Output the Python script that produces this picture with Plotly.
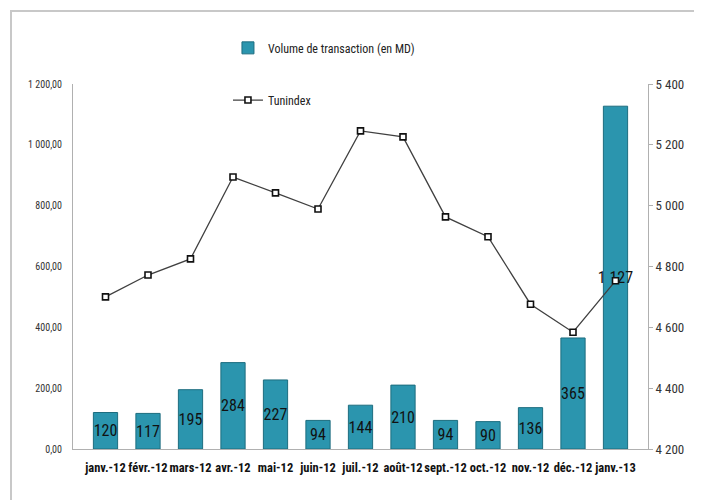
import plotly.graph_objects as go

months = ["janv.-12", "févr.-12", "mars-12", "avr.-12", "mai-12", "juin-12", "juil.-12",
          "août-12", "sept.-12", "oct.-12", "nov.-12", "déc.-12", "janv.-13"]
volume = [120, 117, 195, 284, 227, 94, 144, 210, 94, 90, 136, 365, 1127]
tunindex = [4700, 4772, 4825, 5094, 5042, 4989, 5246, 5226, 4963, 4898, 4676, 4584, 4753]

FONT = "Roboto Condensed, Liberation Sans Narrow, Roboto, sans-serif"

fig = go.Figure()
fig.add_trace(go.Bar(
    x=months, y=volume, name="Volume de transaction (en MD)",
    marker=dict(color="#2b95ae", line=dict(color="#1d6d7f", width=1)),
    texttemplate="%{y:,.0f}", textposition="inside", insidetextanchor="middle",
    constraintext="none",
    textfont=dict(family=FONT, size=16, color="#111111"), textangle=0,
    legend="legend",
))
fig.add_trace(go.Scatter(
    x=months, y=tunindex, name="Tunindex", yaxis="y2", mode="lines+markers",
    line=dict(color="#404040", width=1.3),
    marker=dict(symbol="square", size=6, color="white", line=dict(color="#111111", width=1.6)),
    legend="legend2",
))

fig.update_layout(
    width=702, height=500,
    margin=dict(l=65, r=62, t=76, b=59),
    paper_bgcolor="white", plot_bgcolor="white",
    separators=", ",
    bargap=0.43,
    showlegend=True,
    font=dict(family=FONT, color="#333333"),
    xaxis=dict(showline=True, linecolor="#b0b0b0", linewidth=1, ticks="", tickangle=0,
               ticklabelstandoff=7,
               tickfont=dict(family=FONT, size=12.5, color="#111111", weight="bold"),
               showgrid=False),
    yaxis=dict(range=[0, 1200], dtick=200, tickformat=",.2f", showgrid=False,
               showline=True, linecolor="#b0b0b0", linewidth=1, ticks="",
               ticklabelstandoff=8, zeroline=False,
               tickfont=dict(family=FONT, size=10, color="#333333")),
    yaxis2=dict(range=[4200, 5400], dtick=200, tickformat=",d", overlaying="y", side="right",
                showgrid=False, showline=True, linecolor="#b0b0b0", linewidth=1,
                ticks="outside", ticklen=4, tickcolor="#b0b0b0", zeroline=False,
                tickfont=dict(family=FONT, size=13, color="#333333")),
    legend=dict(x=0.2695, y=1.099, xanchor="left", yanchor="middle", bgcolor="rgba(0,0,0,0)",
                font=dict(family=FONT, size=12, color="#222222"), itemwidth=30),
    legend2=dict(x=0.2695, y=0.956, xanchor="left", yanchor="middle", bgcolor="rgba(0,0,0,0)",
                 font=dict(family=FONT, size=12, color="#222222"), itemwidth=30),
    shapes=[dict(type="rect", xref="paper", yref="paper",
                 x0=(11 - 73) / 575, x1=(720 - 73) / 575, y0=-0.3, y1=(449 - 11) / 365,
                 line=dict(color="#c8c8c8", width=2), fillcolor="rgba(0,0,0,0)", layer="below")],
)

fig.write_html("out.html")
